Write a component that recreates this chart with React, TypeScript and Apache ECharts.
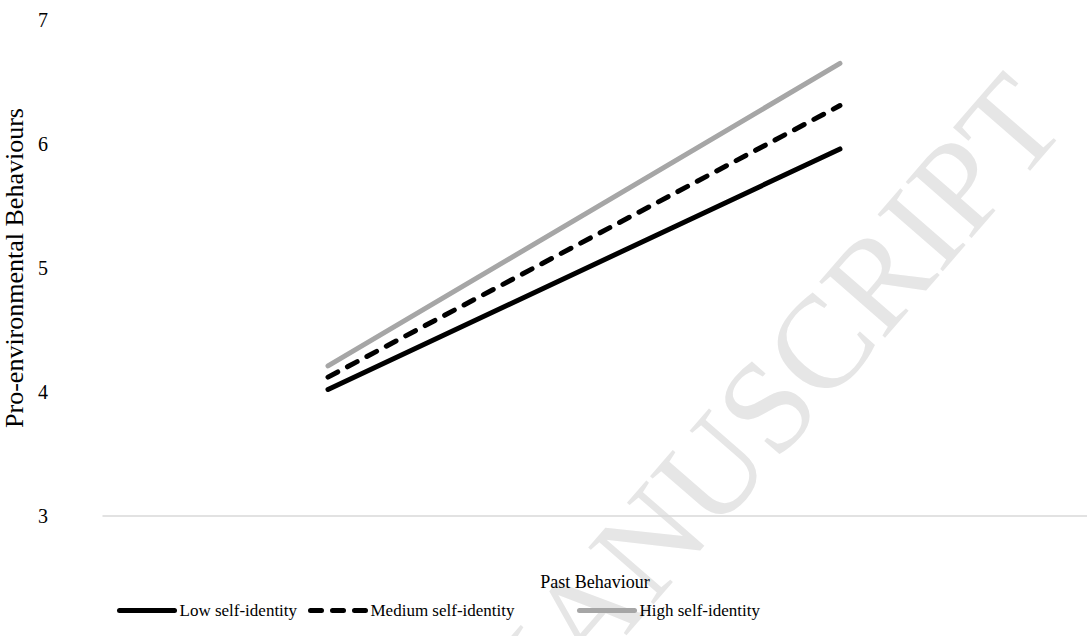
import React, { useEffect, useRef } from "react";
import * as echarts from "echarts";

const categories = ["Low", "High"];
const lowSelfIdentity = [4.02, 5.96];
const mediumSelfIdentity = [4.12, 6.31];
const highSelfIdentity = [4.21, 6.65];
const yTicks = { min: 3, max: 7, interval: 1 };
const xRange = { min: -0.4395, max: 1.4825 };
const seriesNames = ["Low self-identity", "Medium self-identity", "High self-identity"];
const legendLefts = [112, 303, 572];

const FONT = "Liberation Serif";

const toPoints = (vals: number[]) => vals.map((v, i) => [i, v, categories[i]]);

export default function App() {
  const ref = useRef<HTMLDivElement>(null);
  useEffect(() => {
    if (!ref.current) return;
    const chart = echarts.init(ref.current, null, { renderer: "svg" });
    chart.setOption({
      animation: false,
      backgroundColor: "#ffffff",
      textStyle: { fontFamily: FONT, color: "#000" },
      graphic: [
        {
          type: "text",
          x: 1036,
          y: 96,
          rotation: (49 * Math.PI) / 180,
          z: 0,
          style: {
            text: "ACCEPTED MANUSCRIPT",
            fontFamily: FONT,
            fontSize: 132,
            fill: "#e6e6e6",
            textAlign: "right",
            textVerticalAlign: "middle",
          },
        },
      ],
      grid: {
        left: 103,
        top: 20,
        right: 0,
        bottom: 120,
        containLabel: false,
        outerBoundsMode: "none",
      },
      legend: seriesNames.map((name, i) => ({
        bottom: 12,
        left: legendLefts[i],
        itemWidth: 55,
        itemHeight: 6,
        itemStyle: { opacity: 0 },
        lineStyle: { width: 5, cap: "round" },
        textStyle: { fontFamily: FONT, fontSize: 17, color: "#000" },
        data: [name],
      })),
      xAxis: {
        type: "value",
        min: xRange.min,
        max: xRange.max,
        name: "Past Behaviour",
        nameLocation: "middle",
        nameGap: 57,
        nameTextStyle: { fontFamily: FONT, fontSize: 18, color: "#000" },
        axisLine: { show: true, onZero: false, lineStyle: { color: "#d9d9d9", width: 1.5 } },
        axisTick: { show: false },
        axisLabel: { show: false },
        splitLine: { show: false },
      },
      yAxis: {
        type: "value",
        min: yTicks.min,
        max: yTicks.max,
        interval: yTicks.interval,
        name: "Pro-environmental Behaviours",
        nameLocation: "middle",
        nameGap: 69,
        nameTextStyle: { fontFamily: FONT, fontSize: 26, color: "#000" },
        axisLine: { show: false },
        axisTick: { show: false },
        splitLine: { show: false },
        axisLabel: { fontFamily: FONT, fontSize: 20, color: "#000", margin: 55 },
      },
      series: [
        {
          name: seriesNames[0],
          type: "line",
          data: toPoints(lowSelfIdentity),
          symbol: "none",
          z: 3,
          color: "#000000",
          lineStyle: { color: "#000000", width: 5, cap: "round" },
        },
        {
          name: seriesNames[1],
          type: "line",
          data: toPoints(mediumSelfIdentity),
          symbol: "none",
          z: 3,
          color: "#000000",
          lineStyle: { color: "#000000", width: 5, type: [11, 11], cap: "round" },
        },
        {
          name: seriesNames[2],
          type: "line",
          data: toPoints(highSelfIdentity),
          symbol: "none",
          z: 3,
          color: "#a6a6a6",
          lineStyle: { color: "#a6a6a6", width: 5, cap: "round" },
        },
      ],
    });
    return () => chart.dispose();
  }, []);
  return (
    <div
      ref={ref}
      style={{ position: "fixed", left: 0, top: 0, width: 1087, height: 636 }}
    />
  );
}
